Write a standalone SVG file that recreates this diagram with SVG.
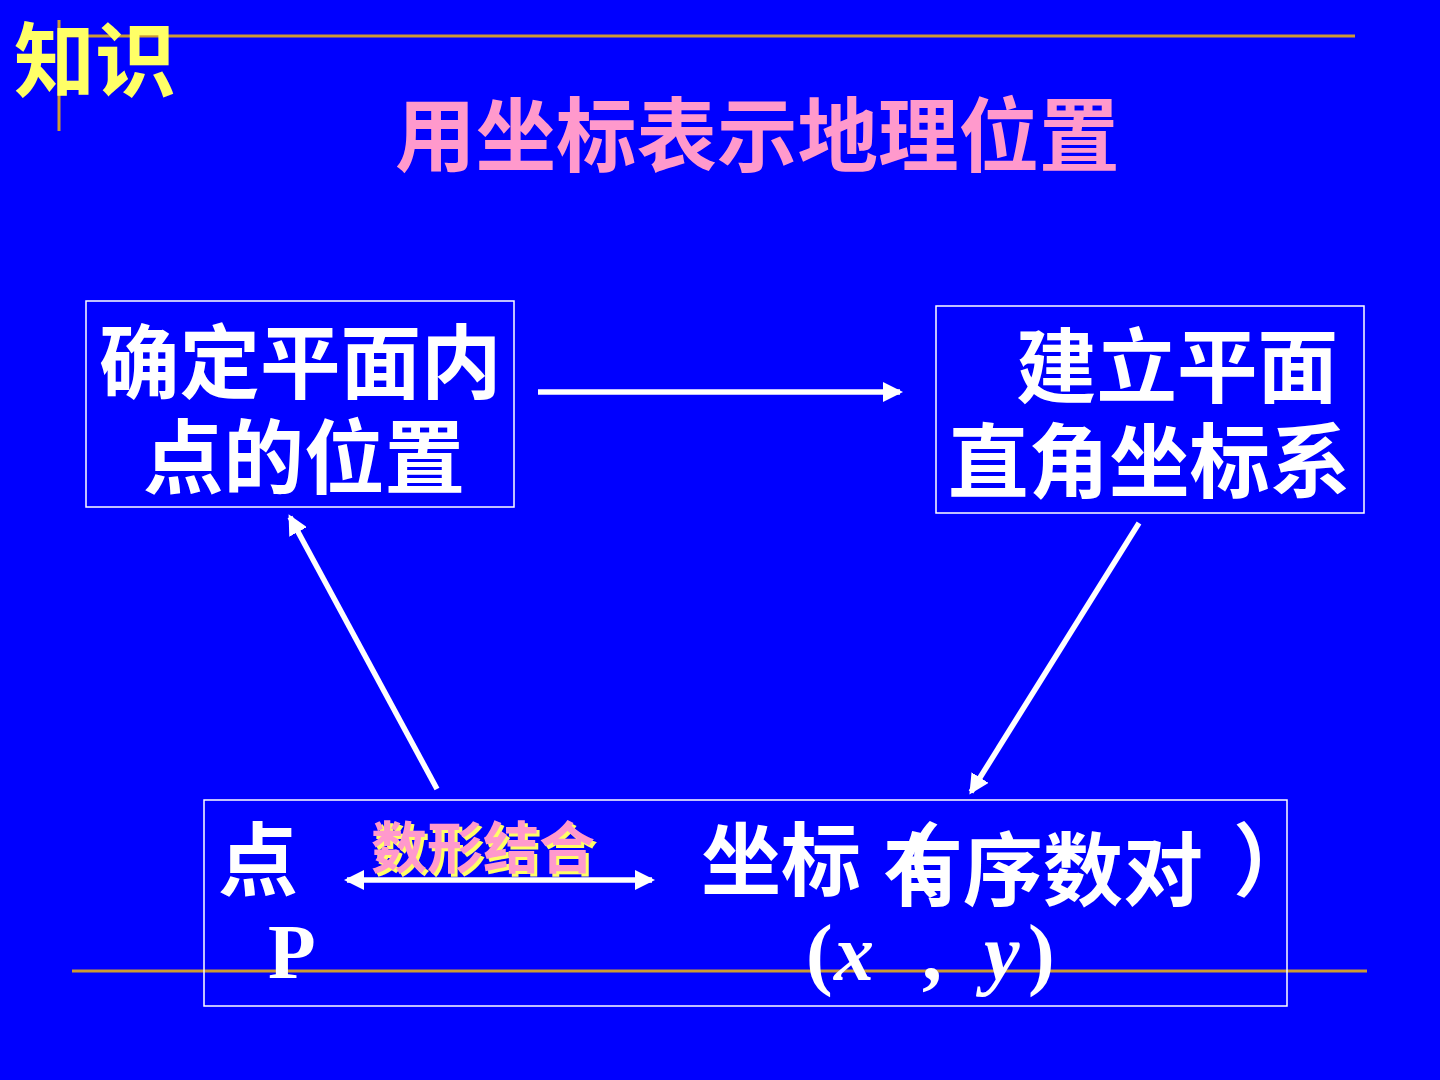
<svg xmlns="http://www.w3.org/2000/svg" width="1440" height="1080" viewBox="0 0 1440 1080">
  <defs>
    <style>
      .cjk { font-family: "Noto Sans CJK SC", "Liberation Sans", sans-serif; font-weight: bold; }
      .white { fill: #FFFFFF; }
      .serif { font-family: "Liberation Serif", "Times New Roman", serif; font-weight: bold; fill: #FFFFFF; }
      .box { fill: none; stroke: #FFFFFF; stroke-width: 1.5; }
      .rule { stroke: #CC9933; stroke-width: 3; fill: none; }
      .arrow { stroke: #FFFFFF; stroke-width: 5.5; fill: none; }
    </style>
    <marker id="head" viewBox="0 0 20 20" refX="17" refY="10" markerWidth="20" markerHeight="20" markerUnits="userSpaceOnUse" orient="auto-start-reverse">
      <path d="M0,0 L20,10 L0,20 Z" fill="#FFFFFF"/>
    </marker>
  </defs>

  <!-- background -->
  <rect x="0" y="0" width="1440" height="1080" fill="#0000FF"/>

  <!-- decorative rules -->
  <g id="rules">
    <line class="rule" x1="59" y1="36" x2="1355" y2="36"/>
    <line class="rule" x1="59" y1="20" x2="59" y2="131"/>
    <line class="rule" x1="72" y1="971" x2="1367" y2="971"/>
  </g>

  <!-- heading -->
  <text id="tag" class="cjk" x="14" y="90" font-size="81" fill="#FFFF66">知识</text>
  <text id="title" class="cjk" x="395" y="165" font-size="80.5" fill="#FF99CC">用坐标表示地理位置</text>

  <!-- connectors -->
  <g id="connectors">
    <line class="arrow" x1="538" y1="392" x2="900" y2="392" marker-end="url(#head)"/>
    <line class="arrow" x1="437" y1="789" x2="290" y2="517" marker-end="url(#head)"/>
    <line class="arrow" x1="1139" y1="523" x2="971" y2="792" marker-end="url(#head)"/>
    <line class="arrow" x1="347" y1="880" x2="652" y2="880" marker-start="url(#head)" marker-end="url(#head)"/>
  </g>

  <!-- node: locating a point in the plane -->
  <g id="node-position">
    <rect class="box" x="86" y="301" width="428" height="206"/>
    <text class="cjk white" x="99" y="392" font-size="80.5">确定平面内</text>
    <text class="cjk white" x="143" y="487" font-size="80.5">点的位置</text>
  </g>

  <!-- node: building the coordinate system -->
  <g id="node-system">
    <rect class="box" x="936" y="306" width="428" height="207"/>
    <text class="cjk white" x="1016" y="396" font-size="80.5">建立平面</text>
    <text class="cjk white" x="948" y="491" font-size="80.5">直角坐标系</text>
  </g>

  <!-- node: point and coordinates -->
  <g id="node-coordinates">
    <rect class="box" x="204" y="800" width="1083" height="206"/>
    <text class="cjk white" x="218" y="889" font-size="80">点</text>
    <text class="serif" x="268" y="978" font-size="78">P</text>
    <text class="cjk" x="374" y="871" font-size="56" fill="#FFFF66">数形结合</text>
    <text class="cjk" x="371" y="868" font-size="56" fill="#FF99CC">数形结合</text>
    <text class="cjk white" x="701" y="889" font-size="80">坐标（</text>
    <text class="cjk white" x="883" y="899" font-size="80">有序数对</text>
    <text class="cjk white" x="1233" y="889" font-size="80">）</text>
    <text class="serif" y="980" font-size="80"><tspan x="806">(</tspan><tspan x="834" font-style="italic">x</tspan><tspan x="922">,</tspan><tspan x="984" font-style="italic">y</tspan><tspan x="1028">)</tspan></text>
  </g>
</svg>
